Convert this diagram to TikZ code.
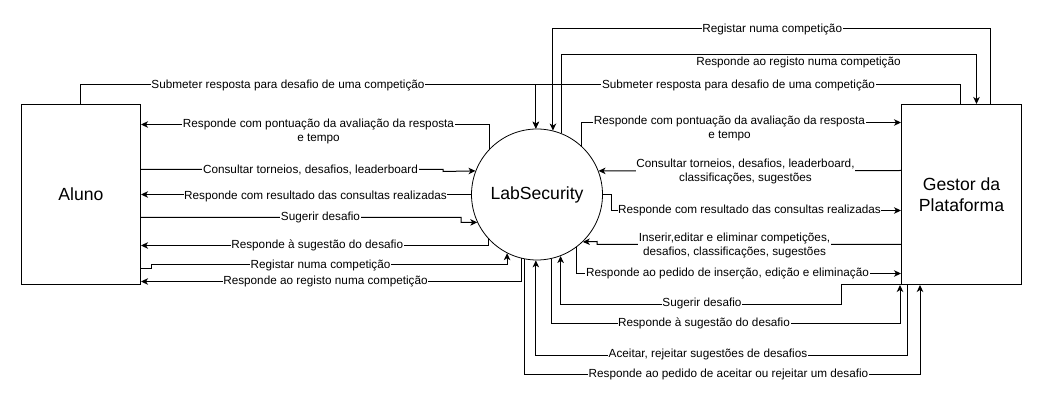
\documentclass[tikz,border=0pt]{standalone}
\usepackage{fontspec}
\setmainfont{Liberation Sans}
\usetikzlibrary{arrows.meta}
\begin{document}
\begin{tikzpicture}[x=1pt,y=-1pt,
  conn/.style={draw=black,line width=1pt},
  arr/.style={conn,-{Stealth[length=7pt,width=6.5pt,inset=2pt]}},
  lbl/.style={fill=white,inner sep=0.6pt,font=\fontsize{11.75}{14}\selectfont,align=center,text=black},
  ent/.style={draw,line width=1pt,minimum height=180pt,font=\fontsize{17.6}{20.5}\selectfont,align=center},
  proc/.style={draw,circle,line width=0.8pt,minimum size=131pt,inner sep=0pt,font=\fontsize{17.6}{20.5}\selectfont},
]
\useasboundingbox (0,0) rectangle (1041,403);
\begin{scope}[xshift=0.5pt,yshift=-0.5pt]

% entities
\node[ent,minimum width=119pt] (al) at (80.5,194) {Aluno};
\node[proc] (ls) at (536.5,194) {LabSecurity};
\node[ent,minimum width=120pt] (gs) at (961,194) {Gestor da\\Plataforma};

% top connectors
\draw[arr] ([xshift=-0.5pt]al.north) -- ++(0,-19) -| (ls.91.31);
\draw[arr] ([xshift=-1pt]gs.north) -- ++(0,-19) -| (ls.91.31);
\draw[arr] ([xshift=29pt]gs.north) -- ++(0,-75) -| (ls.76.31);
\draw[arr] (ls.68.04) -- (ls.68.04 |- 0,54) -| ([xshift=15pt]gs.north);

% left connectors
\draw[arr] (ls.136.49) |- ([yshift=70pt]al.east);
\draw[arr] ([yshift=25pt]al.east) -- ++(302,0) -- ++(0,2) -- (ls.159.44);
\draw[arr] (ls.west) -- (al.east);
\draw[arr] ([yshift=-23pt]al.east) -- ++(320,0) -- ++(0,5) -- (ls.205.31);
\draw[arr] (ls.223.51) |- ([yshift=-51pt]al.east);
\draw[arr] ([yshift=-74pt]al.east) -- ++(10,0) -- ++(0,-4) -| (ls.243.23);
\draw[arr] (ls.256.31) |- ([yshift=-87pt]al.east);

% right connectors
\draw[arr] (ls.47.2) |- ([yshift=72pt]gs.west);
\draw[arr] ([yshift=24pt]gs.west) -- (ls.21.49);
\draw[arr] (ls.east) -- ++(8.5,0) |- ([yshift=-16pt]gs.west);
\draw[arr] ([yshift=-50pt]gs.west) -- ++(-304,0) -- ++(0,-3) -- (ls.314.15);
\draw[arr] (ls.307.09) |- ([yshift=-79pt]gs.west);

% bottom connectors
\draw[arr] (gs.south west) -- ++(-60,0) -- ++(0,19) -| (ls.291.96);
\draw[arr] (ls.283.69) -- (ls.283.69 |- 0,323) -| ([xshift=-1pt]gs.south west);
\draw[arr] ([xshift=6pt]gs.south west) -- ++(0,70) -| (ls.269.56);
\draw[arr] (ls.259.89) -- (ls.259.89 |- 0,374) -| ([xshift=19pt]gs.south west);

% labels
\node[lbl] (l1) at (287.5,85) {Submeter resposta para desafio de uma competição};
\node[lbl] (l2) at (738,85) {Submeter resposta para desafio de uma competição};
\node[lbl] (l3) at (771.7,29) {Registar numa competição};
\node[lbl] (l4) at (798,62) {Responde ao registo numa competição};
\node[lbl] (l5) at (318,131.3) {Responde com pontuação da avaliação da resposta\\e tempo};
\node[lbl] (l6) at (310,169) {Consultar torneios, desafios, leaderboard};
\node[lbl] (l7) at (315,195.5) {Responde com resultado das consultas realizadas};
\node[lbl] (l8) at (320,217) {Sugerir desafio};
\node[lbl] (l9) at (316.7,245) {Responde à sugestão do desafio};
\node[lbl] (l10) at (320,264.5) {Registar numa competição};
\node[lbl] (l11) at (325,281) {Responde ao registo numa competição};
\node[lbl] (l12) at (729,127.5) {Responde com pontuação da avaliação da resposta\\e tempo};
\node[lbl] (l13) at (745,171) {Consultar torneios, desafios, leaderboard,\\classificações, sugestões};
\node[lbl] (l14) at (749,210) {Responde com resultado das consultas realizadas};
\node[lbl] (l15) at (734,244.5) {Inserir,editar e eliminar competições,\\desafios, classificações, sugestões};
\node[lbl] (l16) at (727,273) {Responde ao pedido de inserção, edição e eliminação};
\node[lbl] (l17) at (701.5,303) {Sugerir desafio};
\node[lbl] (l18) at (703.5,323) {Responde à sugestão do desafio};
\node[lbl] (l19) at (707.5,354) {Aceitar, rejeitar sugestões de desafios};
\node[lbl] (l20) at (728,374) {Responde ao pedido de aceitar ou rejeitar um desafio};
\end{scope}
\end{tikzpicture}
\end{document}
